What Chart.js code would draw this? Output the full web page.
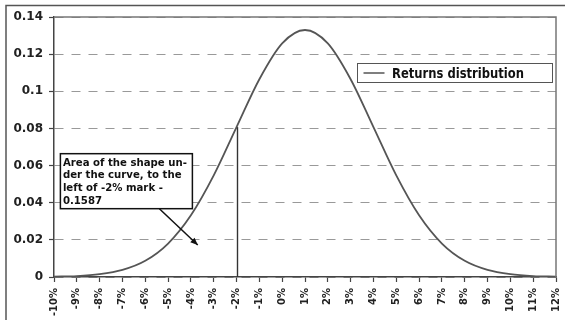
<!DOCTYPE html>
<html>
<head>
<meta charset="utf-8">
<script src="https://cdn.jsdelivr.net/npm/chart.js@4.4.1/dist/chart.umd.min.js"></script>
<style>
  html, body { margin:0; padding:0; background:#fff; }
  #wrap { width:565px; height:320px; }
</style>
</head>
<body>
<div id="wrap"><canvas id="distChart" width="565" height="320"></canvas></div>
<script>
// returns in percent and the density read for each one
const returnsPct = [-10,-9,-8,-7,-6,-5,-4,-3,-2,-1,0,1,2,3,4,5,6,7,8,9,10,11,12];
const density    = [0.0002,0.0005,0.0015,0.0038,0.0087,0.0180,0.0332,0.0547,0.0807,0.1065,0.1258,0.1330,
                    0.1258,0.1065,0.0807,0.0547,0.0332,0.0180,0.0087,0.0038,0.0015,0.0005,0.0002];
const yTicks     = [0,0.02,0.04,0.06,0.08,0.1,0.12,0.14];

const cutoffPct  = -2;
const seriesName = 'Returns distribution';
const noteLines  = ['Area of the shape un-','der the curve, to the','left of -2% mark -','0.1587'];

const ink = '#222';
const curveColor = '#555';

const points = returnsPct.map((x,i) => ({ x, y: density[i] }));

// narrow bold text: draw at a given height, squeeze to a given width
function fitText(ctx, text, x, y, width) {
  const w = ctx.measureText(text).width;
  ctx.save();
  ctx.translate(x, y);
  ctx.scale(Math.min(1, width / w), 1);
  ctx.fillText(text, 0, 0);
  ctx.restore();
}

const decorations = {
  id: 'decorations',
  afterDraw(chart) {
    const { ctx, chartArea:a, scales:{x, y} } = chart;
    ctx.save();

    // outer frame
    ctx.strokeStyle = '#555';
    ctx.lineWidth = 1.5;
    ctx.beginPath();
    ctx.moveTo(6, 320); ctx.lineTo(6, 5.5); ctx.lineTo(565, 5.5);
    ctx.stroke();

    // plot border top / right
    ctx.strokeStyle = '#777';
    ctx.lineWidth = 1.5;
    ctx.beginPath();
    ctx.moveTo(a.left, a.top); ctx.lineTo(a.right, a.top); ctx.lineTo(a.right, a.bottom);
    ctx.stroke();

    // vertical marker at the cutoff
    const ci = returnsPct.indexOf(cutoffPct);
    const cx = Math.round(x.getPixelForValue(cutoffPct)) + 0.5;
    ctx.strokeStyle = '#333';
    ctx.lineWidth = 1.4;
    ctx.beginPath();
    ctx.moveTo(cx, y.getPixelForValue(0));
    ctx.lineTo(cx, y.getPixelForValue(density[ci]));
    ctx.stroke();

    // note box
    const bx = x.getPixelForValue(-9.72), by = y.getPixelForValue(0.0664);
    const bw = 132, bh = 55;
    ctx.fillStyle = '#fff';
    ctx.fillRect(bx, by, bw, bh);
    ctx.strokeStyle = '#111';
    ctx.lineWidth = 1.5;
    ctx.strokeRect(bx, by, bw, bh);
    ctx.fillStyle = '#111';
    ctx.font = 'bold 11px "DejaVu Sans"';
    ctx.textBaseline = 'alphabetic';
    ctx.textAlign = 'left';
    const full = ctx.measureText(noteLines[0]).width;
    const squeeze = Math.min(1, 124 / full);
    noteLines.forEach((t,i) => fitText(ctx, t, bx + 2.5, by + 12 + i*12.7, ctx.measureText(t).width * squeeze));

    // arrow from the box into the shaded tail
    const ax0 = bx + 99, ay0 = by + bh;
    const ax1 = x.getPixelForValue(-3.7), ay1 = y.getPixelForValue(0.0172);
    ctx.strokeStyle = '#111';
    ctx.lineWidth = 1.5;
    ctx.beginPath();
    ctx.moveTo(ax0, ay0); ctx.lineTo(ax1, ay1);
    ctx.stroke();
    const ang = Math.atan2(ay1 - ay0, ax1 - ax0);
    ctx.beginPath();
    ctx.moveTo(ax1, ay1);
    ctx.lineTo(ax1 - 8*Math.cos(ang - 0.4), ay1 - 8*Math.sin(ang - 0.4));
    ctx.lineTo(ax1 - 8*Math.cos(ang + 0.4), ay1 - 8*Math.sin(ang + 0.4));
    ctx.closePath();
    ctx.fill();

    // legend box
    const lx = 357.5, ly = 63.5, lw = 195, lh = 19;
    ctx.fillStyle = '#fff';
    ctx.fillRect(lx, ly, lw, lh);
    ctx.strokeStyle = '#555';
    ctx.lineWidth = 1;
    ctx.strokeRect(lx, ly, lw, lh);
    ctx.strokeStyle = curveColor;
    ctx.lineWidth = 1.5;
    ctx.beginPath();
    ctx.moveTo(lx + 6, ly + lh/2); ctx.lineTo(lx + 27, ly + lh/2);
    ctx.stroke();
    ctx.fillStyle = '#111';
    ctx.font = 'bold 13.5px "DejaVu Sans"';
    ctx.textBaseline = 'alphabetic';
    fitText(ctx, seriesName, lx + 34.5, ly + 14.5, 132);

    ctx.restore();
  }
};

new Chart(document.getElementById('distChart'), {
  type: 'line',
  data: {
    datasets: [{
      label: seriesName,
      data: points,
      borderColor: curveColor,
      borderWidth: 1.8,
      pointRadius: 0,
      fill: false,
      cubicInterpolationMode: 'monotone'
    }]
  },
  options: {
    responsive: false,
    animation: false,
    events: [],
    layout: { padding: { left: 6, top: 17, right: 9, bottom: 0 } },
    plugins: { legend: { display: false }, tooltip: { enabled: false } },
    scales: {
      x: {
        type: 'linear',
        min: returnsPct[0],
        max: returnsPct[returnsPct.length - 1],
        afterFit: s => { s.height = 43; s.paddingLeft = 0; s.paddingRight = 0; },
        afterBuildTicks: s => { s.ticks = returnsPct.map(v => ({ value: v })); },
        grid: { drawOnChartArea: false, drawTicks: true, tickLength: 5, tickColor: '#444', tickWidth: 1.2 },
        border: { color: '#444', width: 1.5 },
        ticks: {
          autoSkip: false, minRotation: 90, maxRotation: 90, padding: 6,
          color: ink, font: { family: 'DejaVu Sans', size: 10, weight: 'bold' },
          callback: v => v + '%'
        }
      },
      y: {
        min: 0,
        max: 0.14,
        afterFit: s => { s.width = 48; },
        afterBuildTicks: s => { s.ticks = yTicks.map(v => ({ value: v })); },
        grid: { color: '#999', lineWidth: 1, tickLength: 5, tickColor: '#444', tickWidth: 1.2, tickBorderDash: [] },
        border: { color: '#444', width: 1.5, dash: [9, 8] },
        ticks: {
          padding: 6, color: ink, font: { family: 'DejaVu Sans', size: 12, weight: 'bold' },
          callback: v => String(+v.toFixed(2))
        }
      }
    }
  },
  plugins: [decorations]
});
</script>
</body>
</html>
